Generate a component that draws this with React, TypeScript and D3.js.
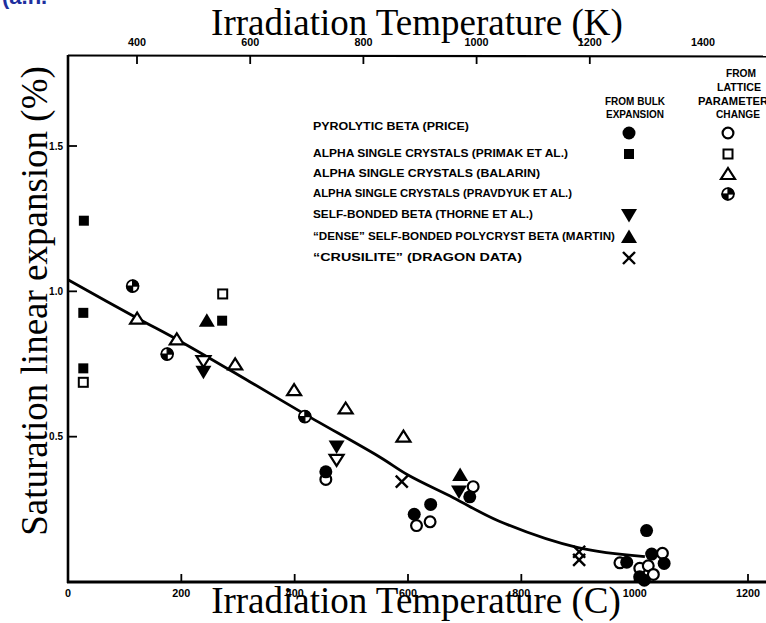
import React from 'react';
import * as d3 from 'd3';

// axis ticks
const celsiusTicks = [0, 200, 400, 600, 800, 1000, 1200];
const kelvinTicks = [400, 600, 800, 1000, 1200, 1400];
const expansionTicks = [0.5, 1.0, 1.5];

// [temperature C, saturation linear expansion %]
const pyrolyticBulk = [[455, 0.379], [611, 0.233], [640, 0.267], [709, 0.293], [986, 0.068], [1021, 0.177], [1030, 0.096], [1052, 0.064], [1009, 0.018], [1017, 0.006]];
const pyrolyticLattice = [[455, 0.353], [615, 0.194], [639, 0.207], [715, 0.328], [974, 0.066], [1009, 0.047], [1024, 0.056], [1033, 0.026], [1049, 0.099]];
const primakBulk = [[28, 1.243], [27, 0.926], [27, 0.735], [272, 0.899]];
const primakLattice = [[27, 0.687], [273, 0.991]];
const balarinLattice = [[122, 0.906], [192, 0.835], [295, 0.749], [399, 0.66], [490, 0.597], [592, 0.5]];
const pravdyukLattice = [[114, 1.018], [175, 0.784], [418, 0.569]];
const thorneBulk = [[239, 0.723], [474, 0.466], [690, 0.311]];
const thorneLattice = [[239, 0.76], [474, 0.42]];
const martinBulk = [[245, 0.899], [692, 0.368]];
const crusilite = [[589, 0.345], [902, 0.104], [902, 0.076]];

// fitted trend curve
const trend = [[0, 1.04], [120, 0.91], [200, 0.826], [320, 0.69], [420, 0.575], [550, 0.43], [600, 0.368], [680, 0.29], [760, 0.21], [900, 0.118], [1018, 0.087]];

const legendLabels = [
  'PYROLYTIC BETA (PRICE)',
  'ALPHA SINGLE CRYSTALS (PRIMAK ET AL.)',
  'ALPHA SINGLE CRYSTALS (BALARIN)',
  'ALPHA SINGLE CRYSTALS (PRAVDYUK ET AL.)',
  'SELF-BONDED BETA (THORNE ET AL.)',
  '\u201CDENSE\u201D SELF-BONDED POLYCRYST BETA (MARTIN)',
  '\u201CCRUSILITE\u201D (DRAGON DATA)',
];
const legendBulk = ['filledCircle', 'filledSquare', null, null, 'filledDown', 'filledUp', 'cross'];
const legendLattice = ['openCircle', 'openSquare', 'openUp', 'quarter', null, null, null];

// layout of legend rows (pixel)
const legendRowY = [125, 152, 172, 192, 213, 235, 256];
const legendTextWidth = [156, 255, 227, 259, 220, 302, 209];

const W = 766;
const H = 623;

const x = d3.scaleLinear().domain([0, 1200]).range([68, 748]);
const xK = d3.scaleLinear().domain([400, 1400]).range([137, 703]);
const y = d3.scaleLinear().domain([0, 1.5]).range([582, 146]);

const sans = '"Liberation Sans", Arial, sans-serif';
const serif = '"Liberation Serif", "Times New Roman", serif';

function Marker({ kind, cx, cy }: { kind: string; cx: number; cy: number }) {
  const r = 6.5;
  switch (kind) {
    case 'filledCircle':
      return <circle cx={cx} cy={cy} r={r} fill="#000" />;
    case 'openCircle':
      return <circle cx={cx} cy={cy} r={5.4} fill="#fff" stroke="#000" strokeWidth={2.2} />;
    case 'filledSquare':
      return <rect x={cx - 5} y={cy - 5} width={10} height={10} fill="#000" />;
    case 'openSquare':
      return <rect x={cx - 4.5} y={cy - 4.5} width={9} height={9} fill="#fff" stroke="#000" strokeWidth={2} />;
    case 'openUp':
      return <path d={`M${cx},${cy - 6}L${cx + 7},${cy + 5}L${cx - 7},${cy + 5}Z`} fill="#fff" stroke="#000" strokeWidth={2.2} />;
    case 'filledUp':
      return <path d={`M${cx},${cy - 7.5}L${cx + 8},${cy + 6}L${cx - 8},${cy + 6}Z`} fill="#000" />;
    case 'filledDown':
      return <path d={`M${cx},${cy + 7.5}L${cx + 8},${cy - 6}L${cx - 8},${cy - 6}Z`} fill="#000" />;
    case 'openDown':
      return <path d={`M${cx},${cy + 6}L${cx + 7},${cy - 5}L${cx - 7},${cy - 5}Z`} fill="#fff" stroke="#000" strokeWidth={2.2} />;
    case 'quarter':
      return (
        <g>
          <circle cx={cx} cy={cy} r={r - 0.6} fill="#fff" stroke="#000" strokeWidth={1.8} />
          <path d={`M${cx},${cy}L${cx},${cy - r}A${r},${r} 0 0 1 ${cx + r},${cy}Z`} fill="#000" />
          <path d={`M${cx},${cy}L${cx},${cy + r}A${r},${r} 0 0 1 ${cx - r},${cy}Z`} fill="#000" />
          <line x1={cx - r} x2={cx + r} y1={cy} y2={cy} stroke="#000" strokeWidth={1.2} />
          <line x1={cx} x2={cx} y1={cy - r} y2={cy + r} stroke="#000" strokeWidth={1.2} />
        </g>
      );
    case 'cross':
      return (
        <g stroke="#000" strokeWidth={2.4}>
          <line x1={cx - 6} y1={cy - 6} x2={cx + 6} y2={cy + 6} />
          <line x1={cx - 6} y1={cy + 6} x2={cx + 6} y2={cy - 6} />
        </g>
      );
    default:
      return null;
  }
}

const series = [
  { kind: 'openUp', data: balarinLattice },
  { kind: 'filledSquare', data: primakBulk },
  { kind: 'openSquare', data: primakLattice },
  { kind: 'quarter', data: pravdyukLattice },
  { kind: 'openDown', data: thorneLattice },
  { kind: 'filledDown', data: thorneBulk },
  { kind: 'filledUp', data: martinBulk },
  { kind: 'cross', data: crusilite },
  { kind: 'openCircle', data: pyrolyticLattice },
  { kind: 'filledCircle', data: pyrolyticBulk },
];

export default function App() {
  const line = d3.line<number[]>().x(d => x(d[0])).y(d => y(d[1])).curve(d3.curveCatmullRom.alpha(0.5));
  const fmt = d3.format('.1f');

  return (
    <svg width={W} height={H} style={{ position: 'absolute', left: 0, top: 0, background: '#fff' }}>
      <rect width={W} height={H} fill="#fff" />
      {/* blue caption, cut off by the top edge as in the source */}
      <text x={2} y={4} fontFamily={sans} fontWeight="bold" fontSize={22} fill="#1e2f9e">(a.h.</text>

      {/* titles */}
      <text x={417} y={35} textAnchor="middle" fontFamily={serif} fontSize={37}>Irradiation Temperature (K)</text>
      <text x={416} y={613} textAnchor="middle" fontFamily={serif} fontSize={37}>Irradiation Temperature (C)</text>
      <text transform="translate(47,301) rotate(-90)" textAnchor="middle" fontFamily={serif} fontSize={37}>Saturation linear expansion (%)</text>

      {/* axes frame */}
      <line x1={68} x2={W} y1={55.5} y2={56.5} stroke="#000" strokeWidth={2.2} />
      <line x1={68} x2={68} y1={55} y2={583} stroke="#000" strokeWidth={2.6} />
      <line x1={67} x2={W} y1={582} y2={582} stroke="#000" strokeWidth={3} />

      {/* top kelvin axis */}
      {kelvinTicks.map(t => (
        <g key={`k${t}`}>
          {t < 1400 && <line x1={xK(t)} x2={xK(t)} y1={56} y2={64} stroke="#000" strokeWidth={1.8} />}
          <text x={xK(t)} y={46} textAnchor="middle" fontFamily={sans} fontWeight="bold" fontSize={11} textLength={t >= 1000 ? 24 : 18} lengthAdjust="spacingAndGlyphs">{t}</text>
        </g>
      ))}

      {/* bottom celsius axis */}
      {celsiusTicks.map(t => (
        <g key={`c${t}`}>
          {t > 0 && <line x1={x(t)} x2={x(t)} y1={582} y2={574} stroke="#000" strokeWidth={1.8} />}
          <text x={x(t)} y={597} textAnchor="middle" fontFamily={sans} fontWeight="bold" fontSize={11}
            textLength={t >= 1000 ? 24 : t > 0 ? 18 : 6} lengthAdjust="spacingAndGlyphs">{t}</text>
        </g>
      ))}

      {/* left axis */}
      {expansionTicks.map(t => (
        <g key={`y${t}`}>
          <line x1={68} x2={77} y1={y(t)} y2={y(t)} stroke="#000" strokeWidth={1.8} />
          <text x={63} y={y(t) + 3.5} textAnchor="end" fontFamily={sans} fontWeight="bold" fontSize={10}>{fmt(t)}</text>
        </g>
      ))}

      {/* trend curve */}
      <path d={line(trend) || ''} fill="none" stroke="#000" strokeWidth={2.8} />

      {/* data */}
      {series.map(s => s.data.map((d, i) => (
        <Marker key={`${s.kind}${i}`} kind={s.kind} cx={x(d[0])} cy={y(d[1])} />
      )))}

      {/* legend */}
      <g fontFamily={sans} fontWeight="bold" fontSize={11}>
        <text x={635} y={105} textAnchor="middle" textLength={60} lengthAdjust="spacingAndGlyphs">FROM BULK</text>
        <text x={635} y={118} textAnchor="middle" textLength={58} lengthAdjust="spacingAndGlyphs">EXPANSION</text>
        <text x={741} y={77} textAnchor="middle" textLength={30} lengthAdjust="spacingAndGlyphs">FROM</text>
        <text x={739} y={91} textAnchor="middle" textLength={44} lengthAdjust="spacingAndGlyphs">LATTICE</text>
        <text x={733} y={105} textAnchor="middle" textLength={70} lengthAdjust="spacingAndGlyphs">PARAMETER</text>
        <text x={738} y={118} textAnchor="middle" textLength={44} lengthAdjust="spacingAndGlyphs">CHANGE</text>
        {legendLabels.map((label, i) => (
          <g key={label}>
            <text x={313} y={legendRowY[i] + 4.5} textLength={legendTextWidth[i]} lengthAdjust="spacingAndGlyphs">{label}</text>
            {legendBulk[i] && <Marker kind={legendBulk[i] as string} cx={629} cy={i === 0 ? legendRowY[i] + 8 : legendRowY[i] + 2} />}
            {legendLattice[i] && <Marker kind={legendLattice[i] as string} cx={728} cy={i === 0 ? legendRowY[i] + 8 : legendRowY[i] + 2} />}
          </g>
        ))}
      </g>
    </svg>
  );
}
